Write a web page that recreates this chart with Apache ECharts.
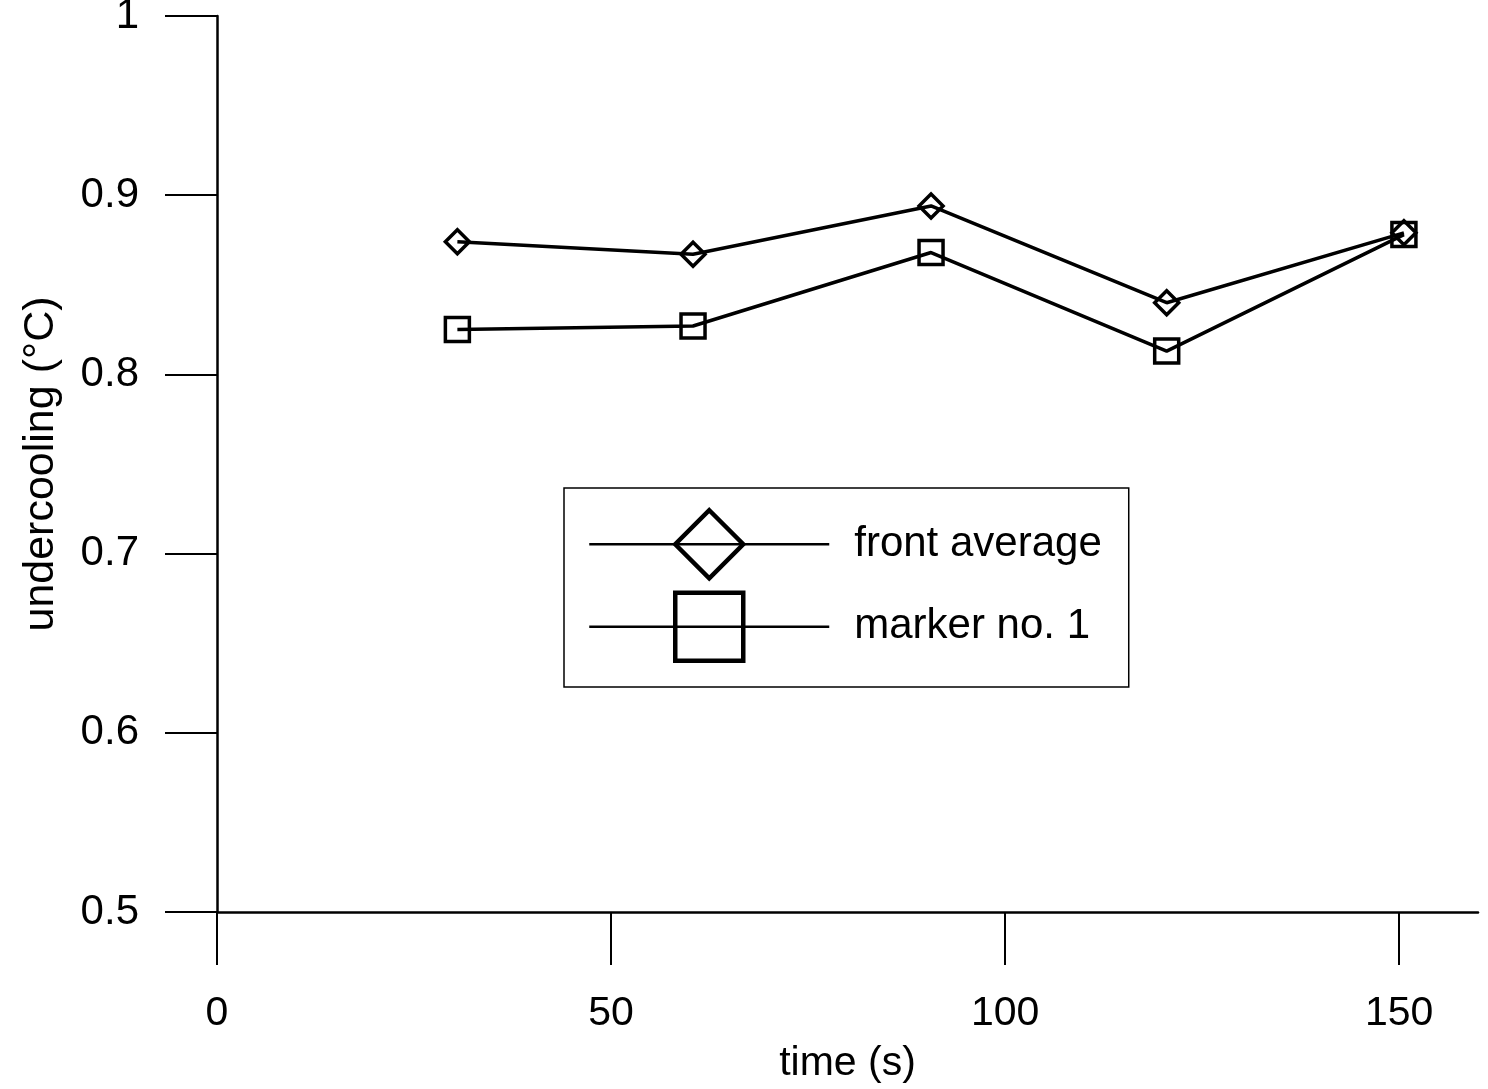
<!DOCTYPE html>
<html>
<head>
<meta charset="utf-8">
<title>undercooling vs time</title>
<script src="https://cdn.jsdelivr.net/npm/echarts@6/dist/echarts.min.js"></script>
<style>
  html, body { margin: 0; padding: 0; background: #fff; }
  #chart { width: 1488px; height: 1089px; }
</style>
</head>
<body>
<div id="chart"></div>
<script>
// measurement times (s)
const times = [30.5, 60.4, 90.6, 120.5, 150.6];
// undercooling (°C)
const frontAverage = [0.874, 0.867, 0.894, 0.840, 0.879];
const markerNo1 = [0.825, 0.827, 0.868, 0.813, 0.878];

const seriesNames = ['front average', 'marker no. 1'];
const xTicks = [0, 50, 100, 150];

const FONT = 'Liberation Sans, Arial, Helvetica, sans-serif';

function pairs(xs, ys) {
  return xs.map((x, i) => [x, ys[i]]);
}

const chart = echarts.init(document.getElementById('chart'), null, { renderer: 'canvas' });

const lineSeries = (name, values, symbol) => ({
  name: name,
  type: 'line',
  data: pairs(times, values),
  symbol: symbol,
  symbolSize: 24,
  showSymbol: true,
  lineStyle: { color: '#000', width: 3.5 },
  itemStyle: { color: 'rgba(0,0,0,0)', borderColor: '#000', borderWidth: 3.5 },
  emphasis: { disabled: true },
  z: 3
});

chart.setOption({
  animation: false,
  backgroundColor: '#fff',
  textStyle: { fontFamily: FONT, color: '#000' },
  grid: { left: 217, right: 10, top: 16, bottom: 177, containLabel: false, outerBoundsMode: 'none' },
  legend: {
    data: seriesNames,
    left: 564,
    top: 488,
    orient: 'vertical',
    selectedMode: false,
    backgroundColor: '#fff',
    borderColor: '#000',
    borderWidth: 1.5,
    padding: [20, 27, 24, 24],
    itemWidth: 240,
    itemHeight: 85,
    itemGap: 10,
    lineStyle: { color: '#000', width: 2.5 },
    itemStyle: { color: 'rgba(0,0,0,0)', borderColor: '#000', borderWidth: 4.5 },
    textStyle: { fontFamily: FONT, fontSize: 42, color: '#000', padding: [0, 0, 0, 20] }
  },
  xAxis: {
    type: 'value',
    min: 0,
    max: 160,
    interval: 50,
    name: 'time (s)',
    nameLocation: 'middle',
    nameGap: 131,
    nameTextStyle: { fontFamily: FONT, fontSize: 41, color: '#000' },
    splitLine: { show: false },
    axisLine: { onZero: false, lineStyle: { color: '#000', width: 2.5 } },
    axisTick: { show: true, inside: false, length: 53, customValues: xTicks, lineStyle: { color: '#000', width: 2 } },
    axisLabel: { customValues: xTicks, margin: 81, fontFamily: FONT, fontSize: 41, color: '#000' }
  },
  yAxis: {
    type: 'value',
    min: 0.5,
    max: 1.0,
    interval: 0.1,
    name: 'undercooling (°C)',
    nameLocation: 'middle',
    nameGap: 154,
    nameTextStyle: { fontFamily: FONT, fontSize: 43, color: '#000' },
    splitLine: { show: false },
    axisLine: { show: true, onZero: false, lineStyle: { color: '#000', width: 2.5 } },
    axisTick: { show: true, inside: false, length: 52, lineStyle: { color: '#000', width: 2 } },
    axisLabel: {
      margin: 78,
      fontFamily: FONT,
      fontSize: 42,
      color: '#000',
      formatter: v => (Math.abs(v - 1) < 1e-9 ? '1' : v.toFixed(1))
    }
  },
  series: [
    lineSeries(seriesNames[0], frontAverage, 'diamond'),
    lineSeries(seriesNames[1], markerNo1, 'rect')
  ]
});
</script>
</body>
</html>
